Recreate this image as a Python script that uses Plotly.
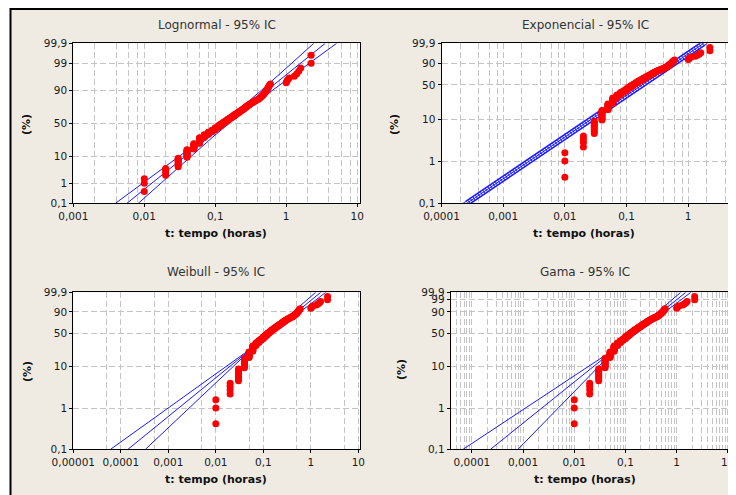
import math
from statistics import NormalDist
import plotly.graph_objects as go

# the page body keeps its default 8px margin, so the figure is drawn 8px in
OFF = 8
FW, FH = 736 - OFF, 495 - OFF

# ---------------- data ----------------
# observed times (hours) and how many observations share each value
TIMES = [0.01, 0.02, 0.03, 0.04, 0.05, 0.06, 0.07, 0.08, 0.09, 0.10,
         0.11, 0.12, 0.13, 0.14, 0.15, 0.16, 0.17, 0.18, 0.19, 0.20,
         0.21, 0.22, 0.23, 0.24, 0.25, 0.26, 0.27, 0.28, 0.29, 0.30,
         0.31, 0.32, 0.33, 0.34, 0.35, 0.36, 0.37, 0.38, 0.40, 0.41,
         0.42, 0.43, 0.44, 0.45, 0.46, 0.47, 0.48, 0.49, 0.50, 0.51,
         0.52, 0.53, 0.54, 0.55, 0.56, 0.57, 0.58, 0.60, 1.00, 1.02,
         1.05, 1.10, 1.30, 1.40, 1.50, 1.60, 2.25]
COUNTS = [3, 4, 8, 11, 10, 12, 7, 6, 5, 6,
          5, 5, 4, 4, 4, 3, 3, 3, 3, 2,
          3, 2, 2, 2, 2, 2, 2, 2, 1, 2,
          1, 1, 1, 1, 1, 1, 1, 1, 1, 1,
          1, 1, 1, 1, 1, 1, 1, 1, 1, 1,
          1, 1, 1, 1, 1, 1, 1, 1, 1, 1,
          1, 1, 1, 1, 1, 1, 2]

# fitted lines with 95% bounds: percent levels and times (hours)
LOGN_P = [0.1, 1, 10, 30, 50, 70, 90, 99, 99.9]
LOGN_T_MID = [0.00570, 0.01262, 0.0374, 0.08233, 0.1421, 0.2451, 0.5395, 1.600, 3.542]
LOGN_T_UP = [0.003932, 0.00947, 0.03124, 0.07305, 0.1281, 0.2174, 0.4503, 1.199, 2.443]
LOGN_T_LOW = [0.00826, 0.01683, 0.04481, 0.09284, 0.1576, 0.2763, 0.6461, 2.132, 5.133]

EXP_P = [0.1, 99.9]
EXP_T_MID = [0.000258, 1.782]
EXP_T_UP = [0.0002246, 1.551]
EXP_T_LOW = [0.0002968, 2.050]

WEIB_P = [0.1, 1, 5, 10, 24.1, 30, 50, 63.2, 80, 90, 99, 99.9]
WEIB_T_MID = [1.422e-4, 1.627e-3, 9.10e-3, 0.01945, 0.05365, 0.07049, 0.1422, 0.2094, 0.3462, 0.5052, 1.050, 1.612]
WEIB_T_UP = [6.116e-5, 9.890e-4, 7.051e-3, 0.01677, 0.05184, 0.06776, 0.1316, 0.1890, 0.3019, 0.4292, 0.8479, 1.263]
WEIB_T_LOW = [3.307e-4, 2.677e-3, 1.173e-2, 0.02257, 0.05554, 0.07334, 0.1536, 0.2320, 0.3969, 0.5945, 1.3009, 2.057]

GAMA_P = [0.1, 1, 5, 10, 23.7, 30, 50, 63.2, 80, 90, 99, 99.9]
GAMA_T_MID = [2.317e-4, 2.293e-3, 0.01156, 0.02363, 0.06041, 0.07934, 0.1535, 0.2208, 0.3543, 0.5056, 1.006, 1.505]
GAMA_T_UP = [6.743e-5, 1.1085e-3, 8.000e-3, 0.01914, 0.05835, 0.07626, 0.1426, 0.2003, 0.3114, 0.4338, 0.8233, 1.198]
GAMA_T_LOW = [7.964e-4, 4.742e-3, 0.01671, 0.02920, 0.06253, 0.08253, 0.1653, 0.2434, 0.4030, 0.5891, 1.2300, 1.891]

TITLES = ["Lognormal - 95% IC", "Exponencial - 95% IC", "Weibull - 95% IC", "Gama - 95% IC"]
X_LABEL = "t: tempo (horas)"
Y_LABEL = "(%)"

Y_TICKS_A = [0.1, 1, 10, 50, 90, 99, 99.9]
Y_TEXT_A = ["0,1", "1", "10", "50", "90", "99", "99,9"]
Y_TICKS_B = [0.1, 1, 10, 50, 90, 99.9]
Y_TEXT_B = ["0,1", "1", "10", "50", "90", "99,9"]

X_VALS_ALL = [0.00001, 0.0001, 0.001, 0.01, 0.1, 1, 10]
X_TEXT_ALL = ["0,00001", "0,0001", "0,001", "0,01", "0,1", "1", "10"]

# ---------------- helpers ----------------
ND = NormalDist()


def z_of(p):
    return ND.inv_cdf(p / 100.0)


def w_of(p):
    return math.log10(-math.log(1.0 - p / 100.0))


sample = []
for t, c in zip(TIMES, COUNTS):
    sample += [t] * c
n = len(sample)
ranks = [(i + 1 - 0.3) / (n + 0.4) * 100.0 for i in range(n)]


def px(x):
    # page pixel -> paper fraction
    return (x - OFF) / FW


def py(y):
    return (FH - (y - OFF)) / FH


BEIGE = "#EFEBE3"
GRID = "#c4c4c4"
GDASH = "6px,3px"
BLUE = "rgb(25,25,255)"
RED = "#ff0000"
FONT = "DejaVu Sans"

fig = go.Figure()

panels = [
    dict(ax="", xd=(73.3, 360), yd=(43.3, 203.3), xr=(-3.0005, 1.04), tf=z_of,
         yt=(Y_TICKS_A, Y_TEXT_A), xt=(0.001, 10), minor=[2, 4, 6, 8]),
    dict(ax="2", xd=(441.5, 729.5), yd=(43.3, 203.3), xr=(-4.0005, 0.67), tf=w_of,
         yt=(Y_TICKS_B, Y_TEXT_B), xt=(0.0001, 1), minor=[2, 4, 6, 8]),
    dict(ax="3", xd=(73.3, 360), yd=(292.3, 449.3), xr=(-5.0005, 1.035), tf=w_of,
         yt=(Y_TICKS_B, Y_TEXT_B), xt=(0.00001, 10), minor=[5]),
    dict(ax="4", xd=(450.7, 729.5), yd=(292.3, 449.3), xr=(-4.415, 1.033), tf=w_of,
         yt=(Y_TICKS_A, Y_TEXT_A), xt=(0.0001, 10), minor=[2, 3, 4, 5, 6, 7, 8, 9]),
]

lines = [
    (LOGN_P, [LOGN_T_UP, LOGN_T_MID, LOGN_T_LOW]),
    (EXP_P, [EXP_T_UP, EXP_T_MID, EXP_T_LOW]),
    (WEIB_P, [WEIB_T_UP, WEIB_T_MID, WEIB_T_LOW]),
    (GAMA_P, [GAMA_T_UP, GAMA_T_MID, GAMA_T_LOW]),
]

layout = dict(
    template="none",
    width=FW, height=FH, autosize=False,
    margin=dict(l=0, r=0, t=0, b=0, pad=0),
    paper_bgcolor=BEIGE, plot_bgcolor="white",
    showlegend=False,
    font=dict(family=FONT, size=10.5, color="#1a1a1a"),
)

for k, pn in enumerate(panels):
    tf = pn["tf"]
    xa = "x" + pn["ax"]
    ya = "y" + pn["ax"]
    lo, hi = pn["xt"]
    xv = [v for v in X_VALS_ALL if lo * 0.99 <= v <= hi * 1.01]
    xtxt = [X_TEXT_ALL[X_VALS_ALL.index(v)] for v in xv]
    minor_vals = []
    for dec in [1e-6, 1e-5, 1e-4, 1e-3, 1e-2, 1e-1, 1, 10]:
        for m in pn["minor"]:
            minor_vals.append(dec * m)
    ymin = tf(0.1) - 0.002
    ymax = tf(99.9) + 0.002
    layout["xaxis" + pn["ax"]] = dict(
        type="log", domain=[px(pn["xd"][0]), px(pn["xd"][1])], range=list(pn["xr"]),
        anchor=ya, tickmode="array", tickvals=xv, ticktext=xtxt, automargin=False,
        showgrid=True, gridcolor=GRID, griddash=GDASH, gridwidth=1,
        ticks="outside", ticklen=3, tickcolor="black",
        showline=True, linecolor="black", linewidth=1, mirror=True, zeroline=False,
        tickfont=dict(family=FONT, size=10.5, color="#1a1a1a"),
        minor=dict(tickvals=minor_vals, showgrid=True, gridcolor=GRID,
                   griddash=GDASH, gridwidth=1, ticks=""),
    )
    yvals, ytext = pn["yt"]
    layout["yaxis" + pn["ax"]] = dict(
        domain=[py(pn["yd"][1]), py(pn["yd"][0])], range=[ymin, ymax],
        anchor=xa, tickmode="array", tickvals=[tf(v) for v in yvals], ticktext=ytext,
        automargin=False,
        showgrid=True, gridcolor=GRID, griddash=GDASH, gridwidth=1,
        ticks="outside", ticklen=3, tickcolor="black",
        showline=True, linecolor="black", linewidth=1, mirror=True, zeroline=False,
        tickfont=dict(family=FONT, size=10.5, color="#1a1a1a"),
    )

    P, Ts = lines[k]
    yl = [tf(p) for p in P]
    if k == 1:
        fig.add_trace(go.Scatter(x=Ts[1], y=yl, mode="lines", xaxis=xa, yaxis=ya,
                                 line=dict(color="rgb(50,50,255)", width=6), hoverinfo="skip"))
        fig.add_trace(go.Scatter(x=Ts[1], y=yl, mode="lines", xaxis=xa, yaxis=ya,
                                 line=dict(color="white", width=3, dash="2px,1px"), hoverinfo="skip"))
    for T in Ts:
        fig.add_trace(go.Scatter(x=T, y=yl, mode="lines", xaxis=xa, yaxis=ya,
                                 line=dict(color=BLUE, width=1), hoverinfo="skip"))
    fig.add_trace(go.Scatter(x=sample, y=[tf(r) for r in ranks], mode="markers",
                             xaxis=xa, yaxis=ya,
                             marker=dict(color=RED, size=7, line=dict(width=0))))

title_pos = [(217, 25), (585, 25), (216, 272), (585, 272)]
xlab_pos = [(216, 233), (584, 233), (216, 479), (585, 479)]
ylab_pos = [(27, 125), (395, 125), (27, 372), (401, 370)]
ann = []
for k in range(4):
    ann.append(dict(x=px(title_pos[k][0]), y=py(title_pos[k][1]), xref="paper", yref="paper",
                    text=TITLES[k], showarrow=False, xanchor="center", yanchor="middle",
                    font=dict(family=FONT, size=12, color="#333333")))
    ann.append(dict(x=px(xlab_pos[k][0]), y=py(xlab_pos[k][1]), xref="paper", yref="paper",
                    text="<b>" + X_LABEL + "</b>", showarrow=False, xanchor="center", yanchor="middle",
                    font=dict(family=FONT, size=11, color="#111111")))
    ann.append(dict(x=px(ylab_pos[k][0]), y=py(ylab_pos[k][1]), xref="paper", yref="paper",
                    text="<b>" + Y_LABEL + "</b>", showarrow=False, xanchor="center", yanchor="middle",
                    textangle=-90, font=dict(family=FONT, size=11, color="#111111")))
layout["annotations"] = ann

shapes = [
    # white strip left of the frame
    dict(type="rect", xref="paper", yref="paper", x0=0, x1=px(10), y0=0, y1=1,
         fillcolor="white", line=dict(width=0), layer="below"),
    # frame lines (top and left)
    dict(type="line", xref="paper", yref="paper", x0=px(10), x1=1, y0=py(9), y1=py(9),
         line=dict(color="black", width=2)),
    dict(type="line", xref="paper", yref="paper", x0=px(10.5), x1=px(10.5), y0=0, y1=1,
         line=dict(color="black", width=2)),
]
layout["shapes"] = shapes

fig.update_layout(**layout)
fig.write_html("out.html")
